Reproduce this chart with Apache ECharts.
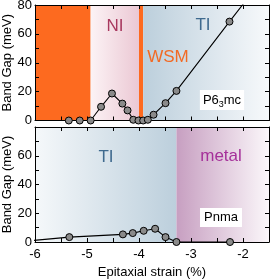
<!DOCTYPE html>
<html><head><meta charset="utf-8">
<script src="https://cdn.jsdelivr.net/npm/echarts@6/dist/echarts.min.js"></script>
<style>html,body{margin:0;padding:0;background:#fff}#c{width:270px;height:280px}</style>
</head><body><div id="c"></div>
<script>
// P6_3mc phase (top panel)
const topStrain = [-5.35, -5.14, -4.93, -4.73, -4.52, -4.32, -4.22, -4.11, -4.01, -3.92, -3.83, -3.72, -3.49, -3.28, -2.26, -1.6];
const topGap    = [0, 0, 0, 9.5, 18.7, 11.7, 7, 0.5, 0, 0, 0.5, 4, 12, 20.5, 68.5, 99];
// Pnma phase (bottom panel)
const botStrain = [-6.35, -5.34, -4.31, -4.12, -3.91, -3.69, -3.49, -3.28, -2.25];
const botGap    = [0, 3.4, 5.3, 6.2, 7.8, 9.2, 3.4, 0, 0];
// phase boundaries
const topPhaseEdges = [-6, -4.93, -4.0, -3.92, -1.5];
const botPhaseEdges = [-6, -3.28, -1.5];
// tick labels
const xTickLabels = [-6, -5, -4, -3, -2];
const topYTickLabels = [0, 20, 40, 60, 80];
const botYTickLabels = [0, 20, 40, 60];

const FONT = 'Liberation Sans, Arial, Helvetica, sans-serif';
const grad = (c0, c1) => ({type: 'linear', x: 0, y: 0, x2: 1, y2: 0, colorStops: [{offset: 0, color: c0}, {offset: 1, color: c1}]});

function xAx(grid, pos, labels, name) {
  return {
    type: 'value', gridIndex: grid, position: pos, min: -6, max: -1.5, interval: 0.5, z: 2,
    axisLine: {show: true, onZero: false, lineStyle: {color: '#000', width: 1}},
    axisTick: {show: true, inside: true, length: 4, lineStyle: {color: '#000', width: 1}},
    axisLabel: {show: labels, margin: 6, fontSize: 13, color: '#000', fontFamily: FONT,
      formatter: v => xTickLabels.includes(v) ? String(v) : ''},
    splitLine: {show: false},
    name: name || '', nameLocation: 'middle', nameGap: 24, nameMoveOverlap: false,
    nameTextStyle: {fontSize: 13, color: '#000', fontFamily: FONT}
  };
}
function yAx(grid, pos, labels, ticks, name) {
  return {
    type: 'value', gridIndex: grid, position: pos, min: 0, max: 80, interval: 10, z: 2,
    axisLine: {show: true, onZero: false, lineStyle: {color: '#000', width: 1}},
    axisTick: {show: true, inside: true, length: 4, lineStyle: {color: '#000', width: 1}},
    axisLabel: {show: labels, margin: 3, fontSize: 13, color: '#000', fontFamily: FONT,
      formatter: v => ticks.includes(v) ? String(v) : ''},
    splitLine: {show: false},
    name: name || '', nameLocation: 'middle', nameGap: 21, nameMoveOverlap: false,
    nameTextStyle: {fontSize: 13, color: '#000', fontFamily: FONT}
  };
}

const topAreas = [
  [{xAxis: topPhaseEdges[0], itemStyle: {color: '#fd6a1f'}}, {xAxis: topPhaseEdges[1]}],
  [{xAxis: topPhaseEdges[1], itemStyle: {color: grad('#fcf3f5', '#ebc8d4')}}, {xAxis: topPhaseEdges[2]}],
  [{xAxis: topPhaseEdges[2], itemStyle: {color: '#fd6a1f'}}, {xAxis: topPhaseEdges[3]}],
  [{xAxis: topPhaseEdges[3], itemStyle: {color: grad('#bccfdc', '#f7f9fb')}}, {xAxis: topPhaseEdges[4]}]
];
const botAreas = [
  [{xAxis: botPhaseEdges[0], itemStyle: {color: grad('#f5f8fa', '#bccfdc')}}, {xAxis: botPhaseEdges[1]}],
  [{xAxis: botPhaseEdges[1], itemStyle: {color: grad('#c79fc1', '#fbf7fa')}}, {xAxis: botPhaseEdges[2]}]
];

const lineStyle = {color: '#000', width: 1.1};
const itemStyle = {color: '#8a8a8a', borderColor: '#000', borderWidth: 1};

const chart = echarts.init(document.getElementById('c'), null, {renderer: 'canvas'});
chart.setOption({
  animation: false,
  backgroundColor: '#fff',
  grid: [
    {left: 35, right: 1, top: 5, height: 115.5, containLabel: false, outerBoundsMode: 'none'},
    {left: 35, right: 1, top: 127, height: 115, containLabel: false, outerBoundsMode: 'none'}
  ],
  xAxis: [
    xAx(0, 'bottom', false),
    xAx(0, 'top', false),
    xAx(1, 'bottom', true, 'Epitaxial strain (%)'),
    xAx(1, 'top', false)
  ],
  yAxis: [
    yAx(0, 'left', true, topYTickLabels, 'Band Gap (meV)'),
    yAx(0, 'right', false, topYTickLabels),
    yAx(1, 'left', true, botYTickLabels, 'Band Gap (meV)'),
    yAx(1, 'right', false, botYTickLabels)
  ],
  series: [
    {type: 'line', xAxisIndex: 0, yAxisIndex: 0, data: [], z: 1, silent: true,
      markArea: {silent: true, data: topAreas}},
    {type: 'line', xAxisIndex: 2, yAxisIndex: 2, data: [], z: 1, silent: true,
      markArea: {silent: true, data: botAreas}},
    {type: 'line', xAxisIndex: 0, yAxisIndex: 0, z: 3, symbol: 'circle', symbolSize: 7,
      data: topStrain.map((x, i) => [x, topGap[i]]), lineStyle, itemStyle},
    {type: 'line', xAxisIndex: 2, yAxisIndex: 2, z: 3, symbol: 'circle', symbolSize: 7,
      data: botStrain.map((x, i) => [x, botGap[i]]), lineStyle, itemStyle}
  ],
  graphic: [
    {type: 'text', x: 115, y: 26, z: 10, style: {text: 'NI', fill: '#a8385e', font: '17px ' + FONT, align: 'center', verticalAlign: 'middle', textAlign: 'center', textVerticalAlign: 'middle'}},
    {type: 'text', x: 168, y: 57, z: 10, style: {text: 'WSM', fill: '#f26a24', font: '17px ' + FONT, align: 'center', verticalAlign: 'middle', textAlign: 'center', textVerticalAlign: 'middle'}},
    {type: 'text', x: 203, y: 25, z: 10, style: {text: 'TI', fill: '#3f6a8e', font: '17px ' + FONT, align: 'center', verticalAlign: 'middle', textAlign: 'center', textVerticalAlign: 'middle'}},
    {type: 'text', x: 222, y: 100, z: 10, style: {text: 'P6{s|3}mc', fill: '#000', font: '13px ' + FONT,
      align: 'center', verticalAlign: 'middle', textAlign: 'center', textVerticalAlign: 'middle',
      backgroundColor: '#fff', padding: [1, 3, 1, 3], lineHeight: 18,
      rich: {s: {fontSize: 9, fontFamily: FONT, fill: '#000', color: '#000', verticalAlign: 'bottom', lineHeight: 10}}}},
    {type: 'text', x: 106, y: 157, z: 10, style: {text: 'TI', fill: '#3f6a8e', font: '17px ' + FONT, align: 'center', verticalAlign: 'middle', textAlign: 'center', textVerticalAlign: 'middle'}},
    {type: 'text', x: 221, y: 156, z: 10, style: {text: 'metal', fill: '#a5309a', font: '17px ' + FONT, align: 'center', verticalAlign: 'middle', textAlign: 'center', textVerticalAlign: 'middle'}},
    {type: 'text', x: 221, y: 217.5, z: 10, style: {text: 'Pnma', fill: '#000', font: '13px ' + FONT, align: 'center', verticalAlign: 'middle', textAlign: 'center', textVerticalAlign: 'middle',
      backgroundColor: '#fff', padding: [3, 4, 3, 4]}}
  ]
});
</script></body></html>
